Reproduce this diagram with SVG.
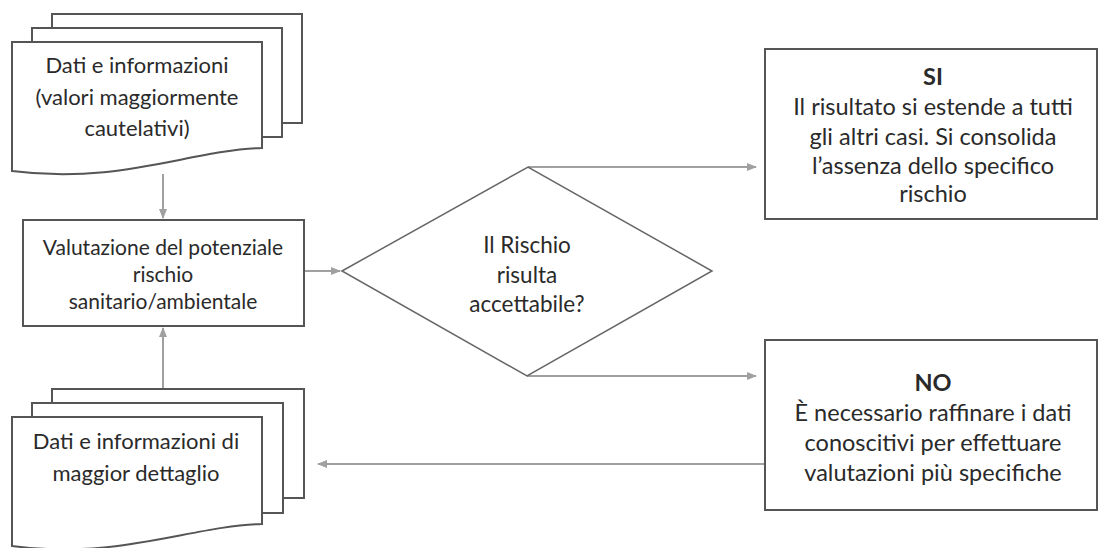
<svg xmlns="http://www.w3.org/2000/svg" width="1100" height="548" viewBox="0 0 1100 548">
<style>
.page{fill:#fff;stroke:#555;stroke-width:2}
.box{fill:#fff;stroke:#555;stroke-width:2}
.dia{fill:#fff;stroke:#666;stroke-width:1.5}
.con{fill:none;stroke:#a0a0a0;stroke-width:2}
text{font-family:Lato,"Open Sans","Liberation Sans",sans-serif;fill:#2a2a2a;text-anchor:middle;dominant-baseline:central}
.t{font-size:22px}
.v{font-size:21px}
.d{font-size:22.5px}
.r{font-size:23.5px}
.b{font-weight:bold}
</style>
<defs>
<marker id="ah" viewBox="0 0 10 10" refX="9" refY="5" markerWidth="5" markerHeight="5" orient="auto-start-reverse" markerUnits="strokeWidth">
<path d="M0,1 L10,5 L0,9 Z" fill="#a0a0a0"/>
</marker>
</defs>
<rect width="1100" height="548" fill="#fff"/>
<g id="connectors">
<line class="con" x1="163" y1="174" x2="163" y2="218" marker-end="url(#ah)"/>
<line class="con" x1="163" y1="389" x2="163" y2="328" marker-end="url(#ah)"/>
<line class="con" x1="304" y1="271" x2="340" y2="271" marker-end="url(#ah)"/>
<line class="con" x1="528" y1="167" x2="756" y2="167" marker-end="url(#ah)"/>
<line class="con" x1="527" y1="376" x2="756" y2="376" marker-end="url(#ah)"/>
<line class="con" x1="765" y1="464" x2="318" y2="464" marker-end="url(#ah)"/>
</g>
<g id="doc-top">
<rect class="page" x="52" y="14" width="250" height="109"/>
<rect class="page" x="32" y="28" width="250" height="109"/>
<path class="page" d="M12,42 H262 V148 C190,150 120,185 12,171 Z"/>
<text class="t" x="137" y="64">Dati e informazioni</text>
<text class="t" x="137" y="96">(valori maggiormente</text>
<text class="t" x="137" y="127">cautelativi)</text>
</g>
<g id="valutazione">
<rect class="box" x="23" y="220" width="281" height="106"/>
<text class="v" x="163" y="246">Valutazione del potenziale</text>
<text class="v" x="163" y="273">rischio</text>
<text class="v" x="163" y="300">sanitario/ambientale</text>
</g>
<g id="doc-bottom">
<rect class="page" x="52" y="389" width="252" height="109"/>
<rect class="page" x="32" y="403" width="251" height="110"/>
<path class="page" d="M12,417 H262 V524 C190,526 120,560 12,546 Z"/>
<text class="t" x="136" y="440">Dati e informazioni di</text>
<text class="t" x="136" y="472">maggior dettaglio</text>
</g>
<g id="decisione">
<polygon class="dia" points="342,271 528,167 712,271 527,376"/>
<text class="d" x="527" y="244">Il Rischio</text>
<text class="d" x="527" y="274">risulta</text>
<text class="d" x="527" y="303">accettabile?</text>
</g>
<g id="si">
<rect class="box" x="765" y="49" width="332" height="170"/>
<text class="r b" x="933" y="76">SI</text>
<text class="r" x="933" y="106">Il risultato si estende a tutti</text>
<text class="r" x="933" y="136">gli altri casi. Si consolida</text>
<text class="r" x="933" y="165">l’assenza dello specifico</text>
<text class="r" x="933" y="193">rischio</text>
</g>
<g id="no">
<rect class="box" x="765" y="340" width="332" height="170"/>
<text class="r b" x="933" y="382">NO</text>
<text class="r" x="933" y="412">È necessario raffinare i dati</text>
<text class="r" x="933" y="442">conoscitivi per effettuare</text>
<text class="r" x="933" y="472">valutazioni più specifiche</text>
</g>
</svg>
